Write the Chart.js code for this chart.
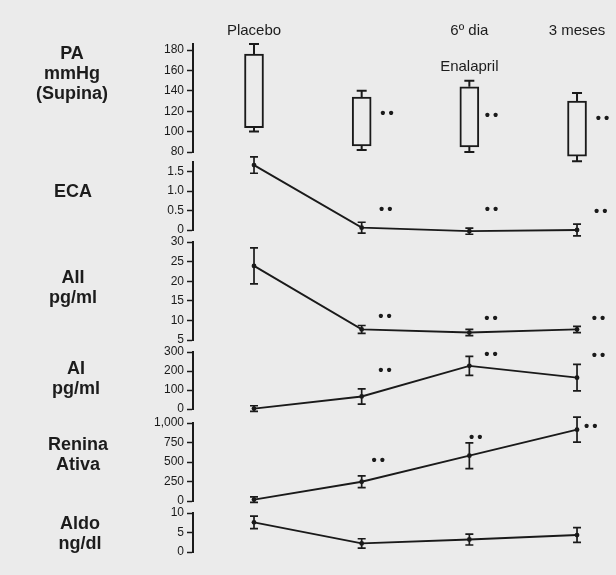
<!DOCTYPE html>
<html>
<head>
<meta charset="utf-8">
<script src="https://cdn.jsdelivr.net/npm/chart.js@4.4.1/dist/chart.umd.min.js"></script>
<style>
  html, body { margin: 0; padding: 0; background: #ebebeb; }
  #wrap { position: relative; width: 616px; height: 575px; overflow: hidden;
          font-family: "Liberation Sans", Arial, sans-serif; color: #1c1c1c; }
  #wrap canvas { position: absolute; left: 0; }
  .lbl { position: absolute; width: 110px; margin-left: -55px; text-align: center;
         font-weight: bold; font-size: 18px; line-height: 20px; }
  .hdr { position: absolute; font-size: 15px; line-height: 18px; white-space: nowrap;
         transform: translateX(-50%); }
</style>
</head>
<body>
<div id="wrap"></div>
<script>
// ---- data ----
const CATEGORIES = ["Placebo", "", "6º dia", "3 meses"];
const PERIOD     = "Enalapril";
const XS         = [0, 1, 2, 3];

// PA supine (mmHg) boxes
const PA_BOX_LOW   = [104, 86, 85, 76];
const PA_BOX_HIGH  = [176, 134, 144, 130];
const PA_WHISK_LOW = [100, 82, 80, 71];
const PA_WHISK_HI  = [186, 140, 150, 138];
const PA_TICKS     = [80, 100, 120, 140, 160, 180];

// ECA
const ECA_MEAN  = [1.67, 0.06, -0.03, 0.0];
const ECA_ERR   = [0.21, 0.14, 0.08, 0.15];
const ECA_TICKS = [0, 0.5, 1.0, 1.5];
const ECA_TICK_LABELS = ["0", "0.5", "1.0", "1.5"];

// AII pg/ml
const AII_MEAN  = [23.9, 7.7, 6.9, 7.7];
const AII_ERR   = [4.6, 1.0, 0.8, 0.8];
const AII_TICKS = [5, 10, 15, 20, 25, 30];

// AI pg/ml
const AI_MEAN  = [2, 66, 227, 165];
const AI_ERR   = [15, 40, 50, 70];
const AI_TICKS = [0, 100, 200, 300];

// Renina ativa
const REN_MEAN  = [18, 247, 581, 915];
const REN_ERR   = [35, 75, 165, 160];
const REN_TICKS = [0, 250, 500, 750, 1000];
const REN_TICK_LABELS = ["0", "250", "500", "750", "1,000"];

// Aldo ng/dl
const ALDO_MEAN  = [7.6, 2.2, 3.2, 4.35];
const ALDO_ERR   = [1.6, 1.2, 1.4, 1.9];
const ALDO_TICKS = [0, 5, 10];

// significance marks (x, y in data units)
const PA_STARS  = [[1.235, 117], [2.205, 115], [3.236, 113]];
const ECA_STARS = [[1.224, 0.51], [2.205, 0.51], [3.22, 0.46]];
const AII_STARS = [[1.217, 10.8], [2.2, 10.5], [3.2, 10.3]];
const AI_STARS  = [[1.217, 201], [2.2, 286], [3.2, 279]];
const REN_STARS = [[1.155, 513], [2.06, 815], [3.128, 948]];

// ---- look & layout ----
const INK  = "#1a1a1a";
const BG   = "#ebebeb";
const FONT = '"Liberation Sans", Arial, sans-serif';
const AXIS_X = 193;     // pixel x of every y axis line
const PAD = 16;         // canvas padding above/below plot area
const X_MIN = -0.5666, X_MAX = 3.362;

const wrap = document.getElementById("wrap");

// error bars, whiskers and the ** marks
function overlay(p){
  return {
    id: "overlay",
    afterDatasetsDraw(chart){
      const {ctx} = chart;
      const x = chart.scales.x, y = chart.scales.y;
      ctx.save();
      ctx.strokeStyle = INK; ctx.fillStyle = INK;
      ctx.lineWidth = 1.7;
      const cap = (px, py, w) => { ctx.moveTo(px - w, py); ctx.lineTo(px + w, py); };

      if (p.err) p.err.forEach((e, i) => {
        const px = x.getPixelForValue(XS[i]);
        const t = y.getPixelForValue(p.mean[i] + e), b = y.getPixelForValue(p.mean[i] - e);
        ctx.beginPath();
        ctx.moveTo(px, t); ctx.lineTo(px, b);
        cap(px, t, 4); cap(px, b, 4);
        ctx.stroke();
      });

      if (p.whisk) p.whisk.hi.forEach((hi, i) => {
        const px = x.getPixelForValue(XS[i]);
        const bt = y.getPixelForValue(PA_BOX_HIGH[i]), wt = y.getPixelForValue(hi);
        const bb = y.getPixelForValue(PA_BOX_LOW[i]),  wb = y.getPixelForValue(p.whisk.lo[i]);
        ctx.lineWidth = 2;
        ctx.beginPath();
        ctx.moveTo(px, bt); ctx.lineTo(px, wt); cap(px, wt, 5);
        ctx.moveTo(px, bb); ctx.lineTo(px, wb); cap(px, wb, 5);
        ctx.stroke();
      });

      if (p.stars){
        ctx.font = "bold 15px " + FONT;
        ctx.textAlign = "center"; ctx.textBaseline = "middle";
        p.stars.forEach(s => ctx.fillText("•\u2009•", x.getPixelForValue(s[0]), y.getPixelForValue(s[1])));
      }
      ctx.restore();
    }
  };
}

function makePanel(p){
  const cv = document.createElement("canvas");
  cv.width = 616;
  cv.height = p.bottom - p.top + 2 * PAD;
  cv.style.top = (p.top - PAD) + "px";
  wrap.appendChild(cv);
  const labels = p.tickLabels || p.ticks.map(String);

  return new Chart(cv, {
    type: p.kind,
    data: { datasets: p.datasets },
    options: {
      responsive: false,
      animation: false,
      layout: { autoPadding: false, padding: { top: PAD, bottom: PAD, left: 0, right: 0 } },
      plugins: { legend: { display: false }, tooltip: { enabled: false } },
      scales: {
        x: { type: "linear", display: false, offset: false, min: X_MIN, max: X_MAX },
        y: {
          min: p.min, max: p.max,
          afterFit: s => { s.width = AXIS_X; },
          afterBuildTicks: s => { s.ticks = p.ticks.map(v => ({ value: v })); },
          ticks: { autoSkip: false, padding: 3, color: INK,
                   font: { family: FONT, size: 12 },
                   callback: (v, i) => labels[i] },
          grid: { drawOnChartArea: false, drawTicks: true, tickLength: 6,
                  color: INK, tickWidth: 1.5 },
          border: { display: true, color: INK, width: 2 }
        }
      }
    },
    plugins: [overlay(p)]
  });
}

function lineSet(mean){
  return [{
    type: "line",
    data: XS.map((x, i) => ({ x: x, y: mean[i] })),
    borderColor: INK, borderWidth: 1.9, tension: 0,
    pointRadius: 2.4, pointBorderWidth: 0, pointBackgroundColor: INK,
    clip: false
  }];
}

// ---- build the six stacked panels ----
const paChart = makePanel({
  kind: "bar", top: 44, bottom: 152, min: 80, max: 186, ticks: PA_TICKS,
  whisk: { lo: PA_WHISK_LOW, hi: PA_WHISK_HI }, stars: PA_STARS,
  datasets: [{
    type: "bar",
    data: XS.map((x, i) => ({ x: x, y: [PA_BOX_LOW[i], PA_BOX_HIGH[i]] })),
    backgroundColor: BG, borderColor: INK, borderWidth: 2,
    borderSkipped: false, barThickness: 19, clip: false
  }]
});

makePanel({ kind: "line", top: 162, bottom: 230, min: 0, max: 1.75,
  ticks: ECA_TICKS, tickLabels: ECA_TICK_LABELS,
  mean: ECA_MEAN, err: ECA_ERR, stars: ECA_STARS, datasets: lineSet(ECA_MEAN) });

makePanel({ kind: "line", top: 242, bottom: 340, min: 5, max: 30,
  ticks: AII_TICKS, mean: AII_MEAN, err: AII_ERR, stars: AII_STARS, datasets: lineSet(AII_MEAN) });

makePanel({ kind: "line", top: 352, bottom: 409, min: 0, max: 300,
  ticks: AI_TICKS, mean: AI_MEAN, err: AI_ERR, stars: AI_STARS, datasets: lineSet(AI_MEAN) });

makePanel({ kind: "line", top: 423, bottom: 501, min: 0, max: 1000,
  ticks: REN_TICKS, tickLabels: REN_TICK_LABELS,
  mean: REN_MEAN, err: REN_ERR, stars: REN_STARS, datasets: lineSet(REN_MEAN) });

makePanel({ kind: "line", top: 513, bottom: 552, min: 0, max: 10,
  ticks: ALDO_TICKS, mean: ALDO_MEAN, err: ALDO_ERR, datasets: lineSet(ALDO_MEAN) });

// ---- text: panel names on the left, column headers on top ----
const PANEL_NAMES = [
  { lines: ["PA", "mmHg", "(Supina)"], x: 72, y: 43 },
  { lines: ["ECA"],                    x: 73, y: 181 },
  { lines: ["AII", "pg/ml"],           x: 73, y: 267 },
  { lines: ["AI", "pg/ml"],            x: 76, y: 358 },
  { lines: ["Renina", "Ativa"],        x: 78, y: 434 },
  { lines: ["Aldo", "ng/dl"],          x: 80, y: 513 }
];
PANEL_NAMES.forEach(n => {
  const d = document.createElement("div");
  d.className = "lbl";
  d.style.left = n.x + "px"; d.style.top = n.y + "px";
  d.innerHTML = n.lines.join("<br>");
  wrap.appendChild(d);
});

const xs = paChart.scales.x;
CATEGORIES.forEach((c, i) => {
  if (!c) return;
  const d = document.createElement("div");
  d.className = "hdr";
  d.textContent = c;
  d.style.left = xs.getPixelForValue(XS[i]) + "px";
  d.style.top = "21px";
  wrap.appendChild(d);
});
const en = document.createElement("div");
en.className = "hdr";
en.textContent = PERIOD;
en.style.left = xs.getPixelForValue(XS[2]) + "px";
en.style.top = "57px";
wrap.appendChild(en);
</script>
</body>
</html>
